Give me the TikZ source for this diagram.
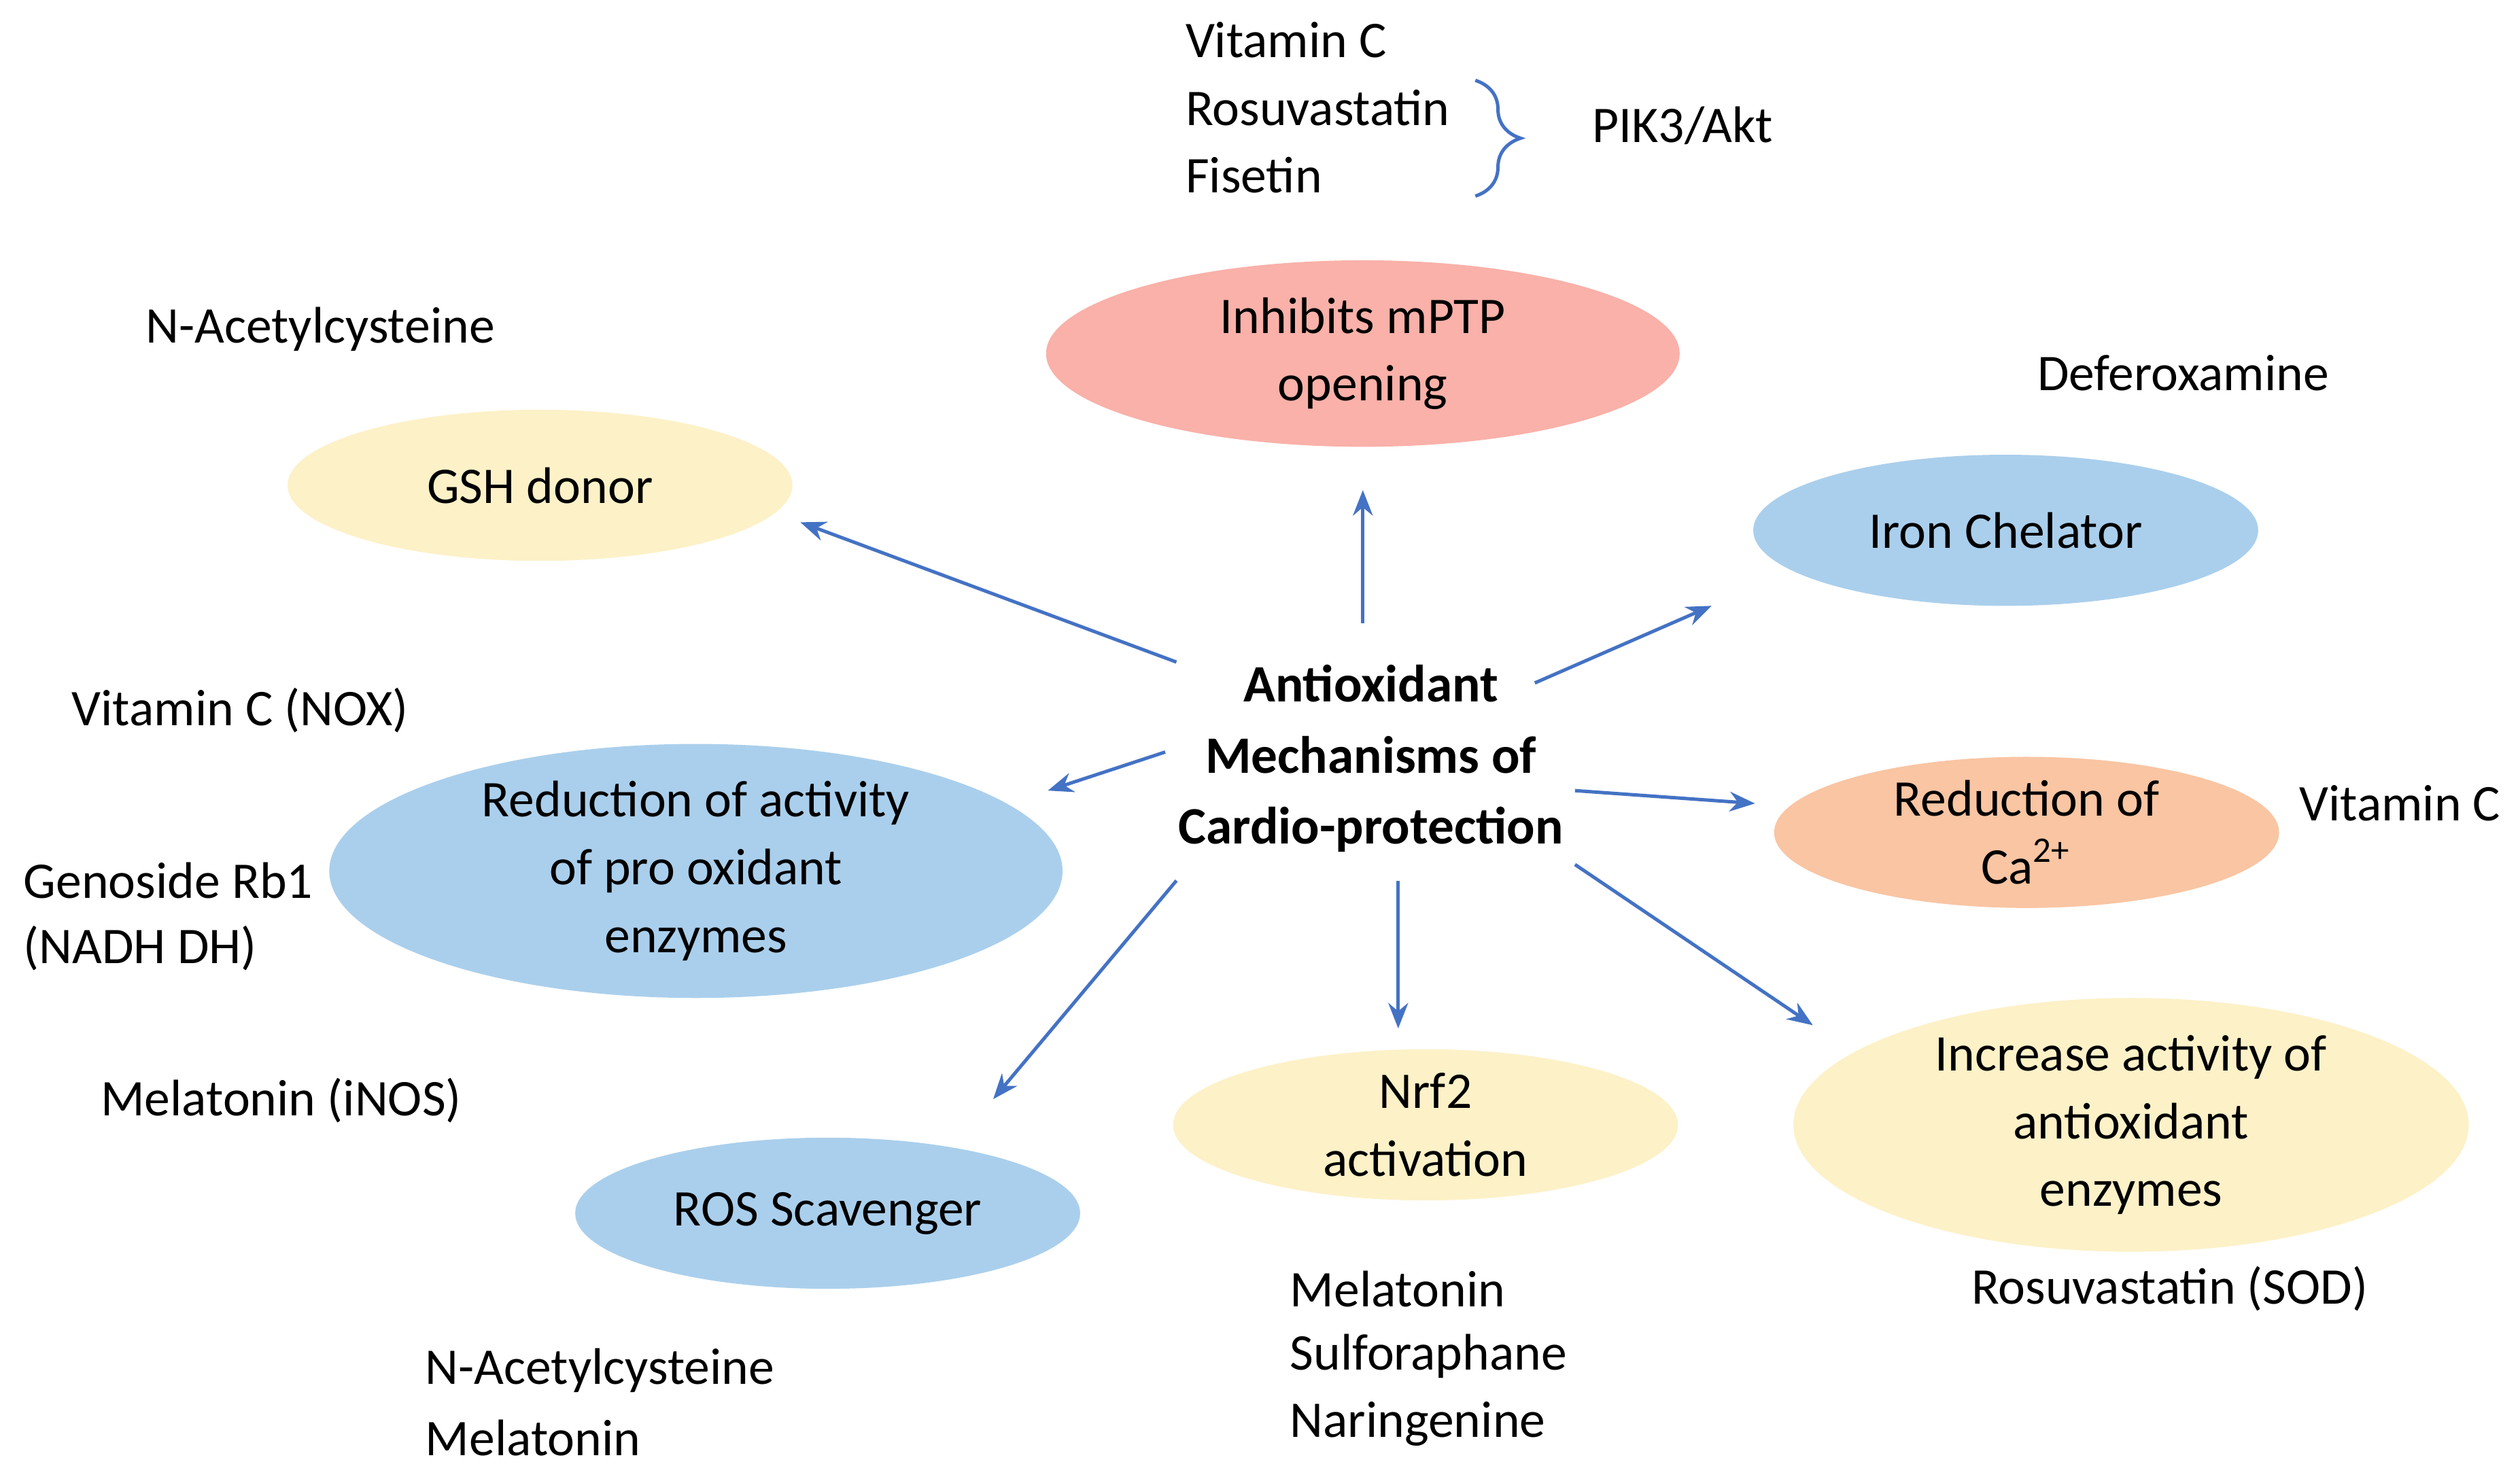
\documentclass[tikz,border=0pt]{standalone}
\usepackage{fontspec}
\setmainfont{Carlito}
\usetikzlibrary{shapes.geometric,decorations.pathreplacing,arrows.meta}
\definecolor{cSal}{HTML}{F9B1A9}
\definecolor{cYel}{HTML}{FDF1C8}
\definecolor{cBlu}{HTML}{AACFEC}
\definecolor{cOra}{HTML}{F9C5A3}
\definecolor{cArr}{HTML}{4472C4}
\begin{document}
\begin{tikzpicture}[x=0.01cm,y=-0.01cm,
  every node/.style={font=\fontsize{9.1}{12}\selectfont},
  ell/.style={ellipse,inner sep=0pt,align=center,draw=none},
  lab/.style={anchor=west,align=left,inner sep=0pt},
  arr/.style={-{Stealth[length=4.5pt,width=3.5pt]},draw=cArr,line width=0.6pt}]
\useasboundingbox (0,0) rectangle (1568,920);
\fill[white] (0,0) rectangle (1568,920);
% ellipses
\node[ell,fill=cSal,minimum width=3.94cm,minimum height=1.16cm] (mptp) at (848,220) {Inhibits mPTP\\opening};
\node[ell,fill=cYel,minimum width=3.14cm,minimum height=0.94cm] (gsh) at (336,302) {GSH donor};
\node[ell,fill=cBlu,minimum width=3.14cm,minimum height=0.94cm] (iron) at (1248,330) {Iron Chelator};
\node[ell,fill=cBlu,minimum width=4.56cm,minimum height=1.44cm] (red) at (433,542) {Reduction of activity\\of pro oxidant\\enzymes};
\node[ell,fill=cOra,minimum width=3.14cm,minimum height=0.94cm] (ca) at (1261,518) {Reduction of\\Ca\textsuperscript{2+}};
\node[ell,fill=cBlu,minimum width=3.14cm,minimum height=0.94cm] (ros) at (515,755) {ROS Scavenger};
\node[ell,fill=cYel,minimum width=3.14cm,minimum height=0.94cm] (nrf) at (887,700) {Nrf2\\activation};
\node[ell,fill=cYel,minimum width=4.2cm,minimum height=1.4cm] (inc) at (1326,700) {Increase activity of\\antioxidant\\enzymes};
% center
\node[align=center,font=\fontsize{9.3}{12.6}\selectfont\bfseries] (c) at (853,472) {Antioxidant\\Mechanisms of\\Cardio-protection};
% arrow endpoints
\coordinate (s1) at (848,388); \coordinate (e1) at (848,305);
\coordinate (s2) at (732,412); \coordinate (e2) at (498,325);
\coordinate (s3) at (955,425); \coordinate (e3) at (1065,377);
\coordinate (s4) at (725,468); \coordinate (e4) at (652,492);
\coordinate (s5) at (980,492); \coordinate (e5) at (1092,500);
\coordinate (s6) at (732,548); \coordinate (e6) at (618,684);
\coordinate (s7) at (870,548); \coordinate (e7) at (870,640);
\coordinate (s8) at (980,538); \coordinate (e8) at (1128,638);
\foreach \i in {1,...,8} {\draw[arr] (s\i) -- (e\i);}
% labels
\node[lab] (t1) at (737,25) {Vitamin C};
\node[lab] (t2) at (737,67) {Rosuvastatin};
\node[lab] (t3) at (737,109) {Fisetin};
\node[lab] (pik) at (990,78) {PIK3/Akt};
\draw[cArr,line width=0.6pt,decorate,decoration={brace,amplitude=8pt}] (918,50) -- (918,122);
\node[lab] at (90,205) {N-Acetylcysteine};
\node[lab] at (1267,232) {Deferoxamine};
\node[lab] at (44,442) {Vitamin C (NOX)};
\node[lab] at (14,548) {Genoside Rb1};
\node[lab] at (14,590) {(NADH DH)};
\node[lab] at (1430,500) {Vitamin C};
\node[lab] at (62,685) {Melatonin (iNOS)};
\node[lab] at (264,853) {N-Acetylcysteine};
\node[lab] at (264,895) {Melatonin};
\node[lab] at (802,802) {Melatonin};
\node[lab] at (802,844) {Sulforaphane};
\node[lab] at (802,886) {Naringenine};
\node[lab] at (1226,802) {Rosuvastatin (SOD)};
\end{tikzpicture}
\end{document}
